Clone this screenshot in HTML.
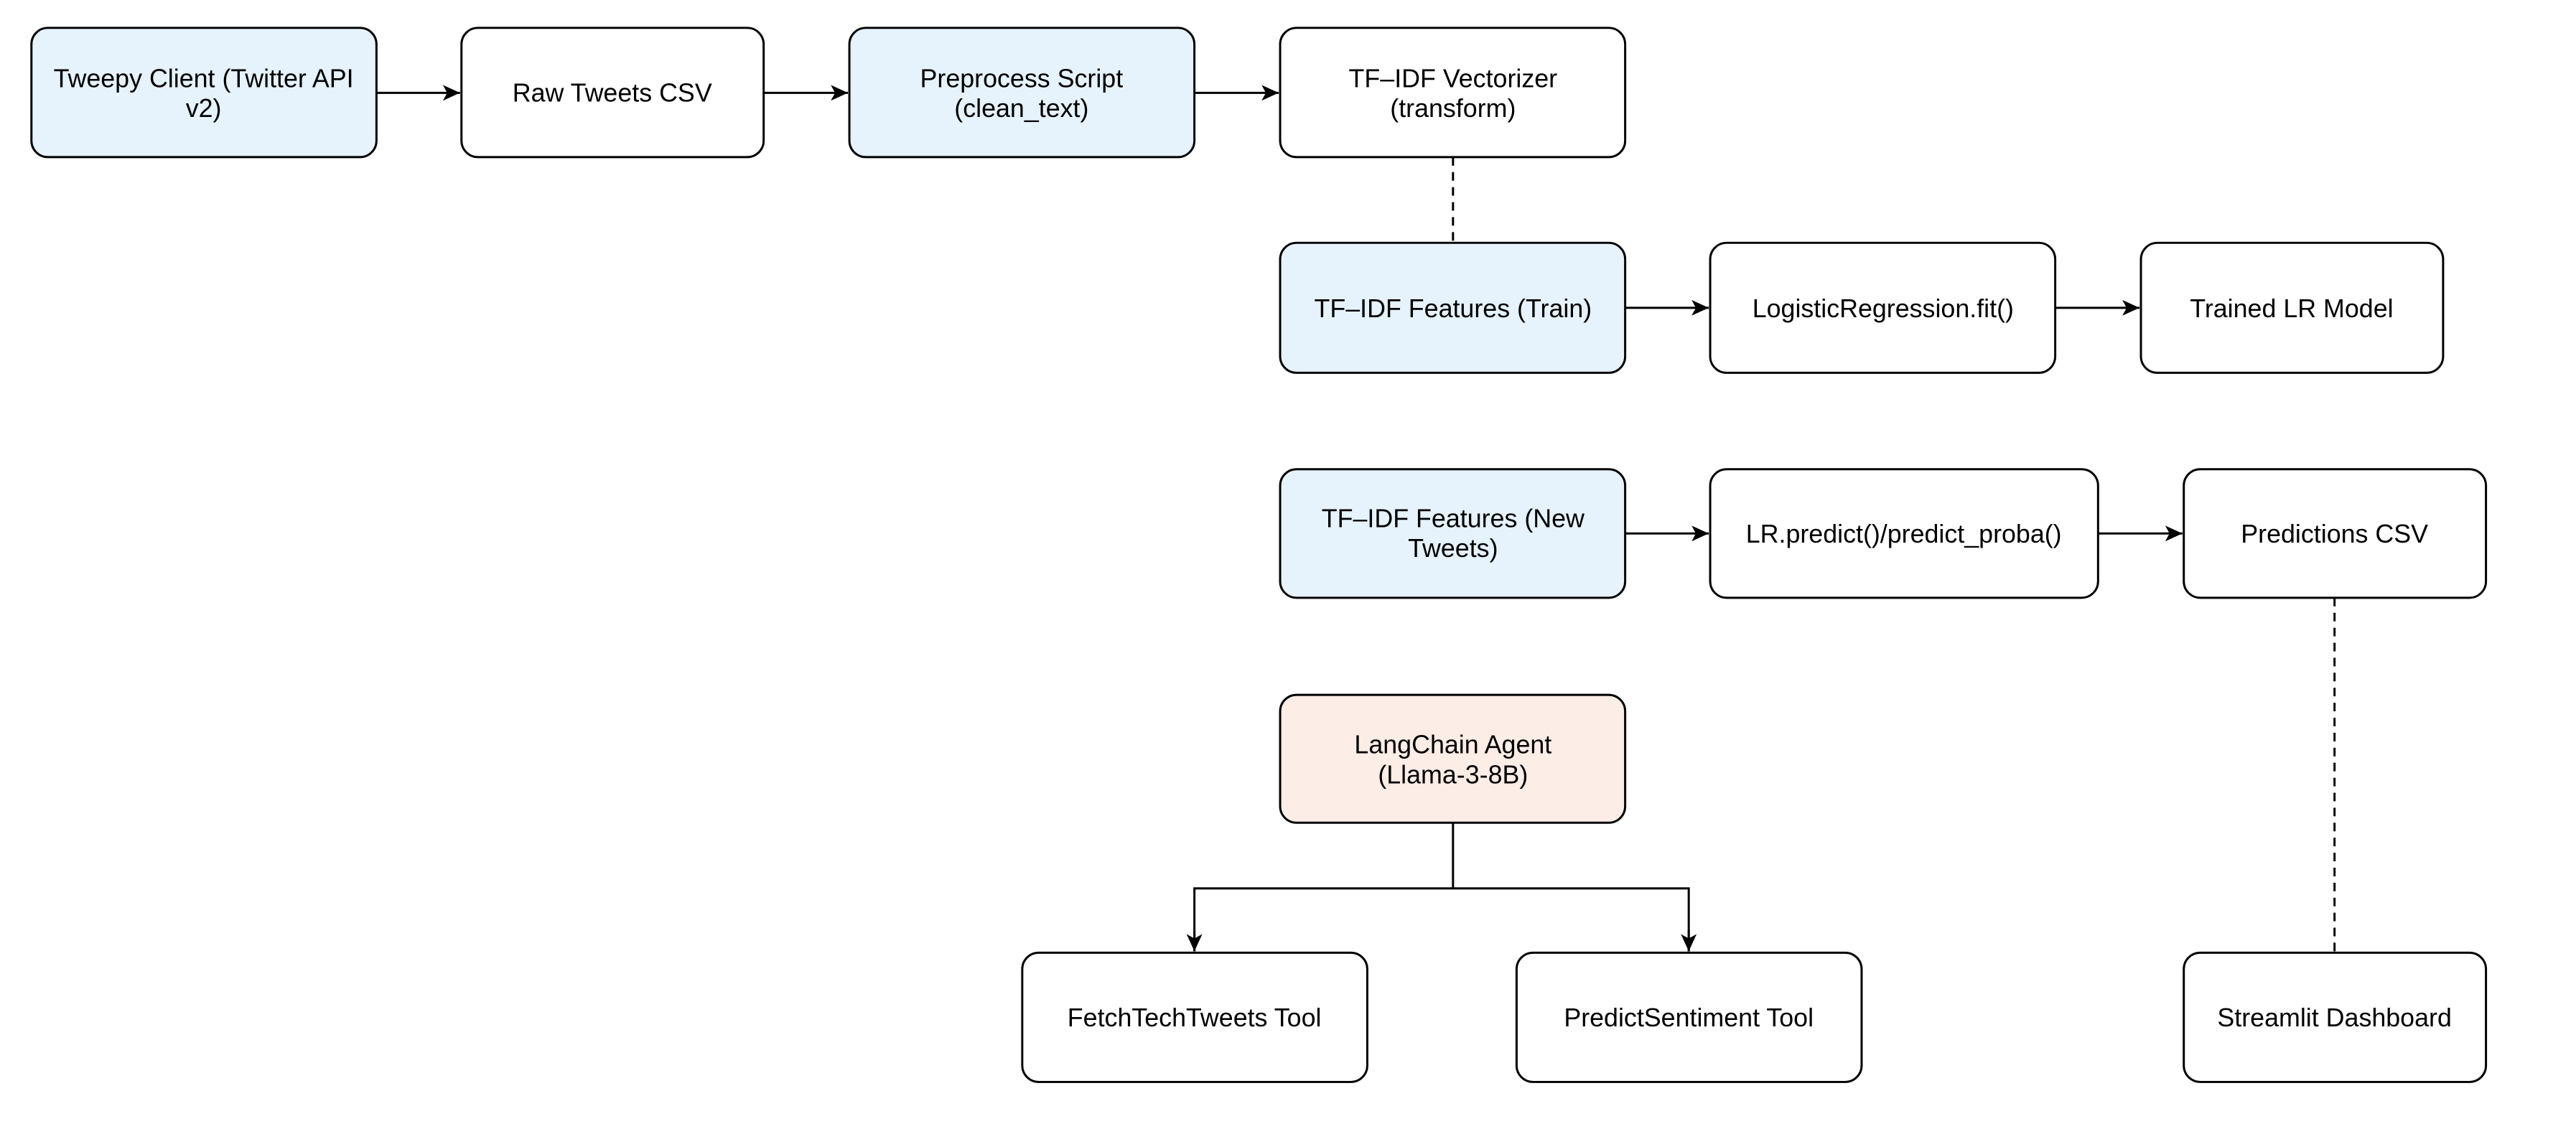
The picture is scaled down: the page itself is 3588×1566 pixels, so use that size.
<!DOCTYPE html>
<html><head><meta charset="utf-8"><style>
html,body{margin:0;padding:0;background:#fff;width:3588px;height:1566px;overflow:hidden}
svg{display:block}
text{font-family:"Liberation Sans",Arial,sans-serif;font-size:36px;fill:#000}
</style></head><body>
<svg width="3588" height="1566" viewBox="0 0 3588 1566" xmlns="http://www.w3.org/2000/svg">
<defs>
<marker id="a" markerWidth="26" markerHeight="22" refX="24" refY="11" orient="auto" markerUnits="userSpaceOnUse">
<path d="M0,0 L24,11 L0,22 L6,11 Z" fill="#000"/>
</marker>
</defs>
<g transform="translate(0,2) scale(0.995)">
<g fill="none" stroke="#000" stroke-width="3">
<line x1="527" y1="128" x2="644" y2="128" marker-end="url(#a)"/>
<line x1="1069" y1="128" x2="1187" y2="128" marker-end="url(#a)"/>
<line x1="1672" y1="128" x2="1790" y2="128" marker-end="url(#a)"/>
<line x1="2275" y1="429" x2="2392" y2="429" marker-end="url(#a)"/>
<line x1="2877" y1="429" x2="2995" y2="429" marker-end="url(#a)"/>
<line x1="2275" y1="745" x2="2392" y2="745" marker-end="url(#a)"/>
<line x1="2937" y1="745" x2="3055" y2="745" marker-end="url(#a)"/>
<line x1="2034" y1="218" x2="2034" y2="338" stroke-dasharray="12,9"/>
<line x1="3268" y1="835" x2="3268" y2="1330" stroke-dasharray="12,9"/>
<polyline points="2034,1150 2034,1242"/>
<polyline points="1672,1330 1672,1242 2364,1242 2364,1330"/>
<line x1="1672" y1="1300" x2="1672" y2="1330" marker-end="url(#a)"/>
<line x1="2364" y1="1300" x2="2364" y2="1330" marker-end="url(#a)"/>
</g>
<g stroke="#000" stroke-width="3">
<rect x="44" y="37" width="483" height="181" rx="23" fill="#E6F2FC"/>
<rect x="646" y="37" width="423" height="181" rx="23" fill="#fff"/>
<rect x="1189" y="37" width="483" height="181" rx="23" fill="#E6F2FC"/>
<rect x="1792" y="37" width="483" height="181" rx="23" fill="#fff"/>
<rect x="1792" y="338" width="483" height="182" rx="23" fill="#E6F2FC"/>
<rect x="2394" y="338" width="483" height="182" rx="23" fill="#fff"/>
<rect x="2997" y="338" width="423" height="182" rx="23" fill="#fff"/>
<rect x="1792" y="655" width="483" height="180" rx="23" fill="#E6F2FC"/>
<rect x="2394" y="655" width="543" height="180" rx="23" fill="#fff"/>
<rect x="3057" y="655" width="423" height="180" rx="23" fill="#fff"/>
<rect x="1792" y="971" width="483" height="179" rx="23" fill="#FCEDE6"/>
<rect x="1431" y="1332" width="483" height="181" rx="23" fill="#fff"/>
<rect x="2123" y="1332" width="483" height="181" rx="23" fill="#fff"/>
<rect x="3057" y="1332" width="423" height="181" rx="23" fill="#fff"/>
</g>
<g text-anchor="middle">
<text x="285" y="120">Tweepy Client (Twitter API</text>
<text x="285" y="162">v2)</text>
<text x="857" y="140">Raw Tweets CSV</text>
<text x="1430" y="120">Preprocess Script</text>
<text x="1430" y="162">(clean_text)</text>
<text x="2034" y="120">TF–IDF Vectorizer</text>
<text x="2034" y="162">(transform)</text>
<text x="2034" y="442">TF–IDF Features (Train)</text>
<text x="2636" y="442">LogisticRegression.fit()</text>
<text x="3208" y="442">Trained LR Model</text>
<text x="2034" y="736">TF–IDF Features (New</text>
<text x="2034" y="778">Tweets)</text>
<text x="2665" y="758">LR.predict()/predict_proba()</text>
<text x="3268" y="758">Predictions CSV</text>
<text x="2034" y="1053">LangChain Agent</text>
<text x="2034" y="1095">(Llama-3-8B)</text>
<text x="1672" y="1435">FetchTechTweets Tool</text>
<text x="2364" y="1435">PredictSentiment Tool</text>
<text x="3268" y="1435">Streamlit Dashboard</text>
</g>
</g>
</svg>
</body></html>
